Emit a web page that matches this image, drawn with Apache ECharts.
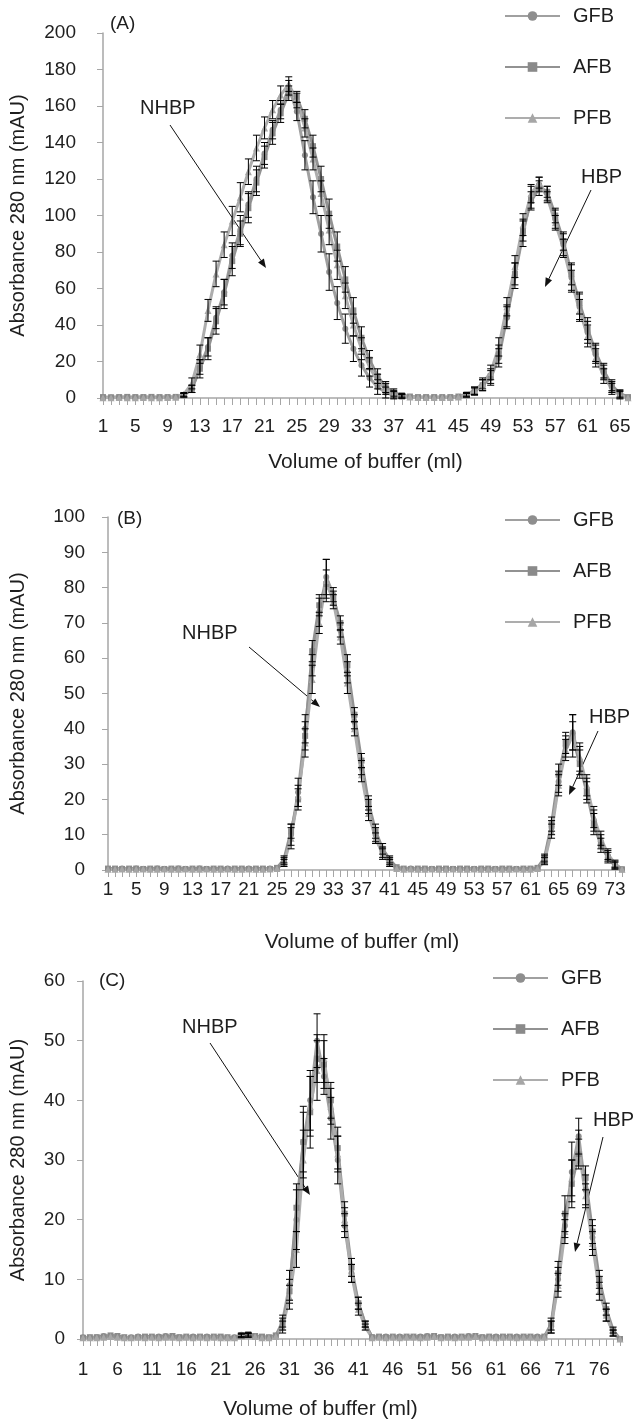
<!DOCTYPE html>
<html>
<head>
<meta charset="utf-8">
<script src="https://cdn.jsdelivr.net/npm/echarts@6/dist/echarts.min.js"></script>
<style>html,body{margin:0;padding:0;background:#fff;}#c{width:634px;height:1423px;}</style>
</head>
<body>
<div id="c"></div>
<script>
// ---------- categories (volume of buffer, ml) ----------
const volumeA = [1,2,3,4,5,6,7,8,9,10,11,12,13,14,15,16,17,18,19,20,21,22,23,24,25,26,27,28,29,30,31,32,33,34,35,36,37,38,39,40,41,42,43,44,45,46,47,48,49,50,51,52,53,54,55,56,57,58,59,60,61,62,63,64,65,66];
const volumeB = [1,2,3,4,5,6,7,8,9,10,11,12,13,14,15,16,17,18,19,20,21,22,23,24,25,26,27,28,29,30,31,32,33,34,35,36,37,38,39,40,41,42,43,44,45,46,47,48,49,50,51,52,53,54,55,56,57,58,59,60,61,62,63,64,65,66,67,68,69,70,71,72,73,74];
const volumeC = [1,2,3,4,5,6,7,8,9,10,11,12,13,14,15,16,17,18,19,20,21,22,23,24,25,26,27,28,29,30,31,32,33,34,35,36,37,38,39,40,41,42,43,44,45,46,47,48,49,50,51,52,53,54,55,56,57,58,59,60,61,62,63,64,65,66,67,68,69,70,71,72,73,74,75,76,77,78,79];

// ---------- Panel A ----------
const gfbA = [0.3,0.3,0.4,0.3,0.3,0.4,0.3,0.3,0.4,0.5, 1.5,5,17,28,44,58,78,92,106,120, 134,147,158,170,157,133,110,90,69,52, 38,27,18,11,6,3,1.5,0.8,0.5,0.3, 0.3,0.3,0.3,0.3,0.5,1.5,3.5,7,11,22, 44,67,90,110,117,112,98,84,66,50, 36,24,14,6,2,0.3];
const afbA = [0.5,0.4,0.5,0.6,0.5,0.5,0.6,0.5,0.5,0.6, 1.5,5,16,27,42,57,75,90,104,118, 132,145,156,167,165,153,138,120,101,83, 65,48,33,21,12,6,3,1.5,0.8,0.5, 0.5,0.5,0.5,0.5,0.8,2,4,7,12,24, 45,68,92,108,115,113,100,86,68,52, 38,25,15,7,2.5,0.5];
const pfbA = [0.2,0.2,0.3,0.2,0.2,0.3,0.2,0.2,0.3,0.4, 2,8,24,48,68,84,97,110,124,137, 148,158,166,172,163,148,131,112,92,73, 56,40,27,17,9,5,2,1,0.5,0.3, 0.3,0.3,0.3,0.3,0.6,1.5,4,8,14,28, 50,72,95,112,118,110,96,82,64,48, 34,22,12,5,1.5,0.2];
const gfbErrA = [0,0,0,0,0,0,0,0,0,0, 1,2,4,5,6,7,7,8,7,7, 6,5,5,4,5,8,9,10,10,9, 8,7,6,5,4,3,2,1,0,0, 0,0,0,0,0,1,2,3,4,5, 6,7,7,6,4,4,5,6,7,7, 6,5,4,3,2,0];
const afbErrA = [0,0,0,0,0,0,0,0,0,0, 1,2,5,6,7,8,8,7,8,7, 6,6,5,4,3,5,6,7,8,8, 7,7,6,5,4,3,2,1,0,0, 0,0,0,0,0,1,2,3,4,5, 6,6,6,5,4,3,4,5,6,6, 6,5,4,3,2,0];
const pfbErrA = [0,0,0,0,0,0,0,0,0,0, 1,3,5,6,7,7,8,8,7,7, 6,5,5,4,4,5,6,7,8,8, 7,6,6,5,4,3,2,1,0,0, 0,0,0,0,0,1,2,3,4,5, 5,6,6,5,3,3,4,5,6,6, 6,5,4,3,2,0];

// ---------- Panel B ----------
const gfbB = [0.3,0.3,0.4,0.3,0.4,0.3,0.3,0.4,0.3,0.3, 0.4,0.3,0.3,0.4,0.3,0.3,0.3,0.4,0.3,0.3, 0.4,0.3,0.3,0.4,0.5,2.5,10,22,40,58, 73,83,78,68,56,42,29,18,10,5, 2.5,0.5,0.3,0.4,0.3,0.3,0.3,0.3,0.3,0.3, 0.3,0.3,0.3,0.3,0.3,0.3,0.3,0.3,0.3,0.3, 0.3,0.5,3,12,25,35,39,31,23,14, 8,4,1.5,0.2];
const afbB = [0.4,0.4,0.3,0.4,0.4,0.3,0.4,0.4,0.3,0.4, 0.4,0.3,0.4,0.4,0.3,0.4,0.4,0.3,0.4,0.4, 0.3,0.4,0.4,0.3,0.6,3,11,20,38,62, 75,81,77,70,58,44,31,19,11,6, 3,0.8,0.4,0.3,0.4,0.4,0.3,0.4,0.4,0.3, 0.4,0.4,0.3,0.4,0.4,0.3,0.4,0.4,0.3,0.4, 0.4,0.6,3.5,13,27,36,38,30,22,13, 7,3.5,1.2,0.2];
const pfbB = [0.2,0.2,0.3,0.2,0.2,0.3,0.2,0.2,0.3,0.2, 0.2,0.3,0.2,0.2,0.3,0.2,0.2,0.3,0.2,0.2, 0.3,0.2,0.2,0.3,0.4,2,9,21,36,54, 70,82,76,66,53,40,27,16,9,4.5, 2,0.4,0.2,0.3,0.2,0.2,0.3,0.2,0.2,0.3, 0.2,0.2,0.3,0.2,0.2,0.3,0.2,0.2,0.3,0.2, 0.2,0.4,2.5,11,24,34,38,32,24,15, 9,4.5,1.8,0.2];
const gfbErrB = [0,0,0,0,0,0,0,0,0,0, 0,0,0,0,0,0,0,0,0,0, 0,0,0,0,0,1,3,4,4,3, 4,5,2,2,3,2,2,2,2,1.5, 1,0,0,0,0,0,0,0,0,0, 0,0,0,0,0,0,0,0,0,0, 0,0,1,2,3,3,5,4,3,3, 2,1.5,1,0];
const afbErrB = [0,0,0,0,0,0,0,0,0,0, 0,0,0,0,0,0,0,0,0,0, 0,0,0,0,0,1,2,3,4,3, 3,4,2,2,3,2,2,2,2,1.5, 1,0,0,0,0,0,0,0,0,0, 0,0,0,0,0,0,0,0,0,0, 0,0,1,2,3,3,4,4,3,3, 2,1.5,1,0];
const pfbErrB = [0,0,0,0,0,0,0,0,0,0, 0,0,0,0,0,0,0,0,0,0, 0,0,0,0,0,1,3,3,4,4, 3,6,2,2,3,2,2,2,1.5,1.5, 1,0,0,0,0,0,0,0,0,0, 0,0,0,0,0,0,0,0,0,0, 0,0,1,2,3,3,6,4,3,3, 2,1.5,1,0];

// ---------- Panel C ----------
const gfbC = [0.3,0.2,0.3,0.5,0.5,0.4,0.2,0.3,0.4,0.3, 0.3,0.4,0.5,0.4,0.3,0.3,0.4,0.3,0.4,0.3, 0.3,0.2,0.3,0.7,0.6,0.5,0.3,0.2,0.5,3, 9,20,33,40,50,44,37,30,19,11, 6,2.5,0.3,0.3,0.4,0.3,0.4,0.3,0.3,0.4, 0.5,0.4,0.3,0.3,0.4,0.3,0.5,0.4,0.3,0.3, 0.4,0.3,0.3,0.4,0.3,0.3,0.4,0.3,2,10, 19,28,34,25,17,9,4,1,0];
const afbC = [0.2,0.3,0.3,0.4,0.6,0.5,0.3,0.2,0.3,0.4, 0.4,0.3,0.4,0.5,0.3,0.4,0.3,0.4,0.3,0.4, 0.4,0.3,0.2,0.6,0.8,0.5,0.4,0.3,0.6,2.5, 8,22,33,38,47,46,40,32,21,12, 6,2.5,0.3,0.4,0.3,0.4,0.3,0.4,0.4,0.3, 0.4,0.5,0.3,0.4,0.3,0.4,0.4,0.5,0.3,0.4, 0.3,0.4,0.4,0.3,0.4,0.4,0.3,0.4,2.5,11, 21,26,31,27,18,10,5,1.5,0];
const pfbC = [0.2,0.2,0.2,0.3,0.4,0.3,0.2,0.2,0.3,0.2, 0.3,0.2,0.3,0.3,0.2,0.3,0.2,0.3,0.2,0.3, 0.2,0.2,0.2,0.5,0.6,0.4,0.2,0.2,0.4,2, 7,15,30,39,45,47,39,31,20,11, 5,2,0.2,0.3,0.2,0.3,0.2,0.3,0.3,0.2, 0.3,0.4,0.2,0.3,0.2,0.3,0.3,0.4,0.2,0.3, 0.2,0.3,0.3,0.2,0.3,0.3,0.2,0.3,2,9, 18,27,32,24,16,8,4,1,0];
const gfbErrC = [0,0,0,0,0,0,0,0,0,0, 0,0,0,0,0,0,0,0,0,0, 0,0,0,0.3,0.3,0,0,0,0,1, 2.5,5,5,5,4.5,3,3.5,4,2,1.5, 1,0.5,0,0,0,0,0,0,0,0, 0,0,0,0,0,0,0,0,0,0, 0,0,0,0,0,0,0,0,1,2, 2,5,3,2.5,2,1.5,1,0.5,0];
const afbErrC = [0,0,0,0,0,0,0,0,0,0, 0,0,0,0,0,0,0,0,0,0, 0,0,0,0.3,0.3,0,0,0,0,1, 2,4,6,6,4,4,3,3.5,2,1.5, 1,0.5,0,0,0,0,0,0,0,0, 0,0,0,0,0,0,0,0,0,0, 0,0,0,0,0,0,0,0,1,2, 3,4,2.5,2,2,1.5,1,0.5,0];
const pfbErrC = [0,0,0,0,0,0,0,0,0,0, 0,0,0,0,0,0,0,0,0,0, 0,0,0,0.3,0.3,0,0,0,0,1, 2,3,5,5,5,4,3,3,2,1.5, 1,0.5,0,0,0,0,0,0,0,0, 0,0,0,0,0,0,0,0,0,0, 0,0,0,0,0,0,0,0,1,2, 2,3,3,2,2,1.5,1,0.5,0];

const seriesNames = ['GFB','AFB','PFB'];
const yAxisTitle = 'Absorbance 280 nm (mAU)';
const xAxisTitle = 'Volume of buffer (ml)';
const panelLabels = ['(A)','(B)','(C)'];

// ---------- styling / layout ----------
const FONT = 'Liberation Sans, Arial, sans-serif';
const TXT = '#1e1e1e';
const AXC = '#a6a6a6';
const styles = {
  GFB: {symbol:'circle', size:6, line:'#a0a0a0', mark:'#8e8e8e'},
  AFB: {symbol:'rect', size:6, line:'#929292', mark:'#8a8a8a'},
  PFB: {symbol:'triangle', size:7, line:'#adadad', mark:'#a6a6a6'}
};

const panels = [
  {cats: volumeA, data:[gfbA,afbA,pfbA], err:[gfbErrA,afbErrA,pfbErrA], max:200, step:20,
   grid:{left:103, top:33, width:525, height:365}, labInt:3, xMargin:19, yMargin:27, xNameGap:54, yNameGap:75, xNamePad:[0,0,0,0],
   legendTop:6, legendLeft:504},
  {cats: volumeB, data:[gfbB,afbB,pfbB], err:[gfbErrB,afbErrB,pfbErrB], max:100, step:10,
   grid:{left:108, top:517, width:514, height:353}, labInt:3, xMargin:10, yMargin:23, xNameGap:62, yNameGap:80, xNamePad:[0,6,0,0],
   legendTop:510, legendLeft:504},
  {cats: volumeC, data:[gfbC,afbC,pfbC], err:[gfbErrC,afbErrC,pfbErrC], max:60, step:10,
   grid:{left:83, top:981, width:537, height:358}, labInt:4, xMargin:21, yMargin:18, xNameGap:60, yNameGap:55, xNamePad:[0,62,0,0],
   legendTop:968, legendLeft:492}
];

const annotations = [
  {text:'NHBP', x:140, y:108, from:[170,125], to:[266,268]},
  {text:'HBP',  x:581, y:177, from:[591,190], to:[545,287]},
  {text:'NHBP', x:182, y:633, from:[249,647], to:[320,707]},
  {text:'HBP',  x:589, y:717, from:[598,731], to:[569,795]},
  {text:'NHBP', x:182, y:1027, from:[210,1043], to:[310,1195]},
  {text:'HBP',  x:593, y:1120, from:[603,1137], to:[575,1252]}
];
const panelLabelPos = [[110,24],[117,519],[99,981]];

// ---------- build ----------
function errRender(params, api) {
  const i = api.value(0), v = api.value(1), e = api.value(2);
  if (!e) return null;
  const t = api.coord([i, v + e]), b = api.coord([i, v - e]);
  const hw = 3.5, st = {stroke:'#000', lineWidth:1};
  return {type:'group', children:[
    {type:'line', shape:{x1:t[0], y1:t[1], x2:b[0], y2:b[1]}, style:st},
    {type:'line', shape:{x1:t[0]-hw, y1:t[1], x2:t[0]+hw, y2:t[1]}, style:st},
    {type:'line', shape:{x1:b[0]-hw, y1:b[1], x2:b[0]+hw, y2:b[1]}, style:st}
  ]};
}

const grids=[], xAxes=[], yAxes=[], series=[], legends=[], graphics=[];
panels.forEach((p, k) => {
  grids.push(Object.assign({outerBoundsMode:'none', containLabel:false}, p.grid));
  xAxes.push({
    gridIndex:k, type:'category', data:p.cats.map(String), boundaryGap:false,
    axisLine:{lineStyle:{color:AXC, width:1.5}},
    axisTick:{show:true, interval:0, length:7, lineStyle:{color:AXC, width:1}},
    axisLabel:{interval:p.labInt, margin:p.xMargin, fontSize:19, color:TXT, fontFamily:FONT, hideOverlap:false},
    splitLine:{show:false},
    name:xAxisTitle, nameLocation:'middle', nameGap:p.xNameGap, nameMoveOverlap:false,
    nameTextStyle:{fontSize:21, color:TXT, fontFamily:FONT, padding:p.xNamePad}
  });
  yAxes.push({
    gridIndex:k, type:'value', min:0, max:p.max, interval:p.step,
    axisLine:{show:true, lineStyle:{color:AXC, width:1.5}},
    axisTick:{show:true, length:6, lineStyle:{color:AXC, width:1}},
    axisLabel:{margin:p.yMargin, fontSize:19, color:TXT, fontFamily:FONT},
    splitLine:{show:false},
    name:yAxisTitle, nameLocation:'middle', nameGap:p.yNameGap, nameRotate:90, nameMoveOverlap:false,
    nameTextStyle:{fontSize:20, color:TXT, fontFamily:FONT}
  });
  seriesNames.forEach((nm, j) => {
    const s = styles[nm];
    series.push({
      name:nm, type:'line', xAxisIndex:k, yAxisIndex:k, data:p.data[j],
      symbol:s.symbol, symbolSize:s.size, showSymbol:true, showAllSymbol:true,
      lineStyle:{color:s.line, width:3}, itemStyle:{color:s.mark},
      z:2, animation:false
    });
  });
  seriesNames.forEach((nm, j) => {
    series.push({
      name:nm + ' error', type:'custom', xAxisIndex:k, yAxisIndex:k,
      data:p.data[j].map((v, i) => [i, v, p.err[j][i]]),
      encode:{x:0, y:1}, renderItem:errRender, z:3, animation:false, silent:true
    });
  });
  legends.push({
    data:seriesNames, orient:'vertical', left:p.legendLeft, top:p.legendTop, padding:0,
    itemWidth:55, itemHeight:12, itemGap:31,
    textStyle:{fontSize:20, color:TXT, fontFamily:FONT, lineHeight:20, padding:[0,0,0,8]},
    selectedMode:false
  });
});

panelLabels.forEach((t, k) => {
  graphics.push({type:'text', x:panelLabelPos[k][0], y:panelLabelPos[k][1],
    style:{text:t, fontSize:19, fontFamily:FONT, fill:TXT, align:'left', verticalAlign:'middle'}});
});
annotations.forEach(a => {
  graphics.push({type:'text', x:a.x, y:a.y,
    style:{text:a.text, fontSize:20, fontFamily:FONT, fill:TXT, align:'left', verticalAlign:'middle'}});
  const [x1,y1] = a.from, [x2,y2] = a.to;
  const ang = Math.atan2(y2-y1, x2-x1), L = 9, W = 3.5;
  const bx = x2 - L*Math.cos(ang), by = y2 - L*Math.sin(ang);
  const px = -Math.sin(ang)*W, py = Math.cos(ang)*W;
  graphics.push({type:'line', shape:{x1, y1, x2:bx, y2:by}, style:{stroke:'#111', lineWidth:1}});
  graphics.push({type:'polygon', shape:{points:[[x2,y2],[bx+px,by+py],[bx-px,by-py]]}, style:{fill:'#111'}});
});

const chart = echarts.init(document.getElementById('c'), null, {renderer:'canvas'});
chart.setOption({
  backgroundColor:'#fff', animation:false,
  grid:grids, xAxis:xAxes, yAxis:yAxes, series:series, legend:legends,
  graphic:{elements:graphics}
});
</script>
</body>
</html>
